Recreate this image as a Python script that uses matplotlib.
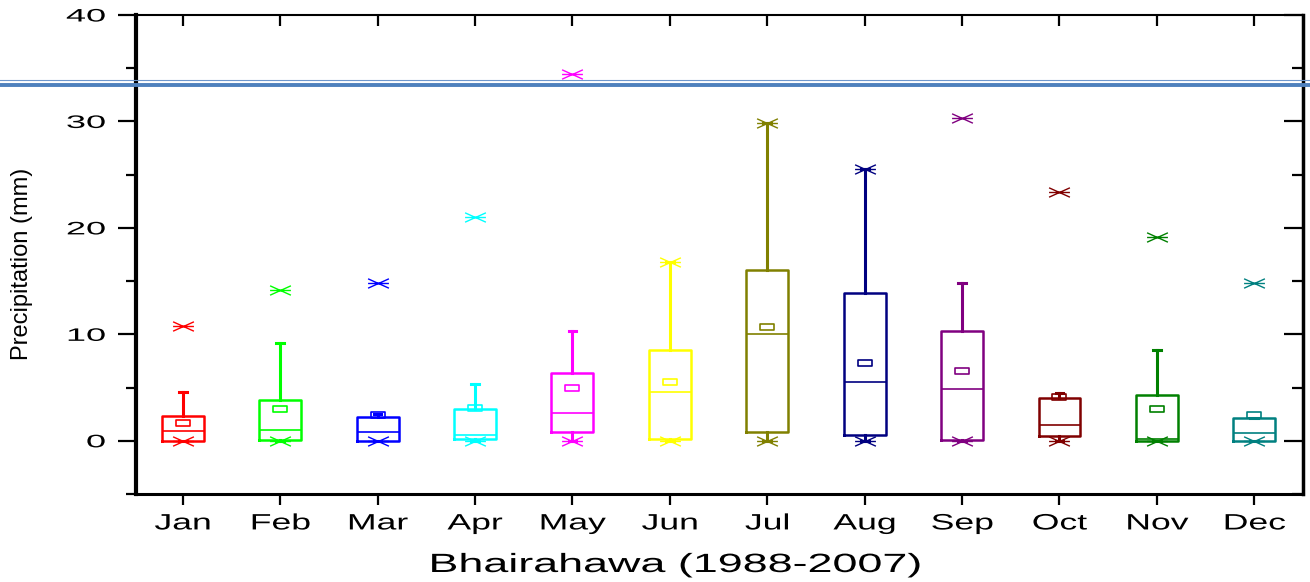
import matplotlib
matplotlib.use('Agg')
import matplotlib.pyplot as plt
from matplotlib.lines import Line2D
from matplotlib.path import Path
from matplotlib.transforms import Affine2D
from matplotlib.patheffects import AbstractPathEffect

months = ['Jan', 'Feb', 'Mar', 'Apr', 'May', 'Jun', 'Jul', 'Aug', 'Sep', 'Oct', 'Nov', 'Dec']
q1 = [0.0, 0.1, 0.0, 0.2, 0.8, 0.2, 0.85, 0.5, 0.1, 0.45, 0.0, 0.0]
median = [0.9, 1.0, 0.8, 0.5, 2.6, 4.55, 10.0, 5.5, 4.9, 1.45, 0.2, 0.7]
q3 = [2.35, 3.8, 2.2, 2.95, 6.35, 8.55, 16.05, 13.9, 10.3, 4.0, 4.3, 2.1]
mean = [1.7, 2.95, 2.45, 3.1, 4.95, 5.5, 10.65, 7.3, 6.6, 4.1, 2.95, 2.4]
whisk_lo = [0.0] * 12
whisk_hi = [4.6, 9.2, 2.55, 5.3, 10.35, 16.8, 29.85, 25.5, 14.85, 4.5, 8.55, 2.1]
mins = [0.0] * 12
maxs = [10.8, 14.2, 14.8, 21.05, 34.5, 16.8, 29.85, 25.5, 30.3, 23.4, 19.15, 14.8]
colors = ['#FF0000', '#00FF00', '#0000FF', '#00FFFF', '#FF00FF', '#FFFF00',
          '#808000', '#000080', '#800080', '#800000', '#008000', '#008080']


class HStretch(AbstractPathEffect):
    # widen glyphs horizontally (the reference image is stretched)
    def __init__(self, sx, anchor='center'):
        super().__init__()
        self.sx = sx
        self.anchor = anchor

    def draw_path(self, renderer, gc, tpath, affine, rgbFace=None):
        if len(tpath.vertices) == 0:
            return
        v = affine.transform(tpath.vertices)
        cx = v[:, 0].max() if self.anchor == 'right' else (v[:, 0].min() + v[:, 0].max()) / 2
        t = affine + Affine2D().translate(-cx, 0).scale(self.sx, 1).translate(cx, 0)
        renderer.draw_path(gc, tpath, t, rgbFace)


plt.rcParams['font.family'] = ['Liberation Sans', 'DejaVu Sans']

# wide "x" with a bar through it, and a flat open square for the mean
xmark = Path([(-1, -0.45), (1, 0.45), (-1, 0.45), (1, -0.45), (-1, 0), (1, 0)],
             [Path.MOVETO, Path.LINETO, Path.MOVETO, Path.LINETO, Path.MOVETO, Path.LINETO])
sqmark = Path([(-1, -0.45), (1, -0.45), (1, 0.45), (-1, 0.45), (-1, -0.45)],
              [Path.MOVETO, Path.LINETO, Path.LINETO, Path.LINETO, Path.CLOSEPOLY])

fig = plt.figure(figsize=(13.1, 5.82), dpi=100)
ax = fig.add_axes([136 / 1310, 88 / 582, 1167 / 1310, 479 / 582])

pos = list(range(1, 13))
stats = []
for i in range(12):
    stats.append(dict(med=median[i], q1=q1[i], q3=q3[i], whislo=whisk_lo[i],
                      whishi=whisk_hi[i], fliers=[], mean=mean[i]))

bp = ax.bxp(stats, positions=pos, widths=0.43, capwidths=0.08, showmeans=False,
            showfliers=False, patch_artist=False)
for i, c in enumerate(colors):
    bp['boxes'][i].set(color=c, linewidth=1.8)
    bp['medians'][i].set(color=c, linewidth=1.2)
    for k in (2 * i, 2 * i + 1):
        bp['whiskers'][k].set(color=c, linewidth=2.2)
        bp['caps'][k].set(color=c, linewidth=2.2)
    ax.plot(pos[i], mean[i], marker=sqmark, markersize=10, mfc='none', mec=c, mew=1.2, zorder=4)
    ax.plot([pos[i], pos[i]], [mins[i], maxs[i]], linestyle='none', marker=xmark,
            markersize=15, mfc='none', mec=c, mew=1.0, zorder=4)

ax.set_xlim(0.52, 12.5)
ax.set_ylim(-5, 40)
ax.set_yticks([0, 10, 20, 30, 40])
ax.set_yticks([-5, 5, 15, 25, 35], minor=True)
ax.set_xticks(pos)
ax.set_xticklabels(months, fontsize=16)
ax.set_yticklabels(['0', '10', '20', '30', '40'], fontsize=13)

ax.tick_params(axis='y', which='major', direction='out', length=13, width=1.6, pad=9,
               right=True)
ax.tick_params(axis='y', which='minor', direction='out', length=7, width=1.6, right=True)
ax.tick_params(axis='x', which='major', direction='out', length=8, width=1.6, pad=6, top=True)
ax.tick_params(axis='x', which='minor', bottom=False, top=False)
for t in ax.yaxis.get_major_ticks():
    t.tick2line.set_marker(0)
    t.tick2line.set_markersize(14)
for t in ax.yaxis.get_minor_ticks():
    t.tick2line.set_marker(0)
    t.tick2line.set_markersize(8)
for t in ax.xaxis.get_major_ticks():
    t.tick2line.set_marker(3)
    t.tick2line.set_markersize(8)

ax.spines['left'].set_linewidth(3)
ax.spines['right'].set_linewidth(2.5)
ax.spines['bottom'].set_linewidth(2.2)
ax.spines['top'].set_linewidth(1.5)

for lab in ax.get_xticklabels():
    lab.set_path_effects([HStretch(1.6)])
for lab in ax.get_yticklabels():
    lab.set_path_effects([HStretch(2.0, 'right')])

fig.text(675 / 1310, 10 / 582, 'Bhairahawa (1988-2007)', fontsize=19, ha='center',
         va='baseline', path_effects=[HStretch(1.7)])
fig.text(22 / 1310, 1 - 264 / 582, 'Precipitation (mm)', fontsize=17, rotation=90,
         ha='center', va='center')

# double blue rule running across the page
fig.add_artist(Line2D([0, 1], [1 - 79.8 / 582] * 2, color='#6F97CC', linewidth=0.8, zorder=10))
fig.add_artist(Line2D([0, 1], [1 - 84.5 / 582] * 2, color='#4F81BD', linewidth=2.8, zorder=10))

fig.savefig('out.png', dpi=100)
